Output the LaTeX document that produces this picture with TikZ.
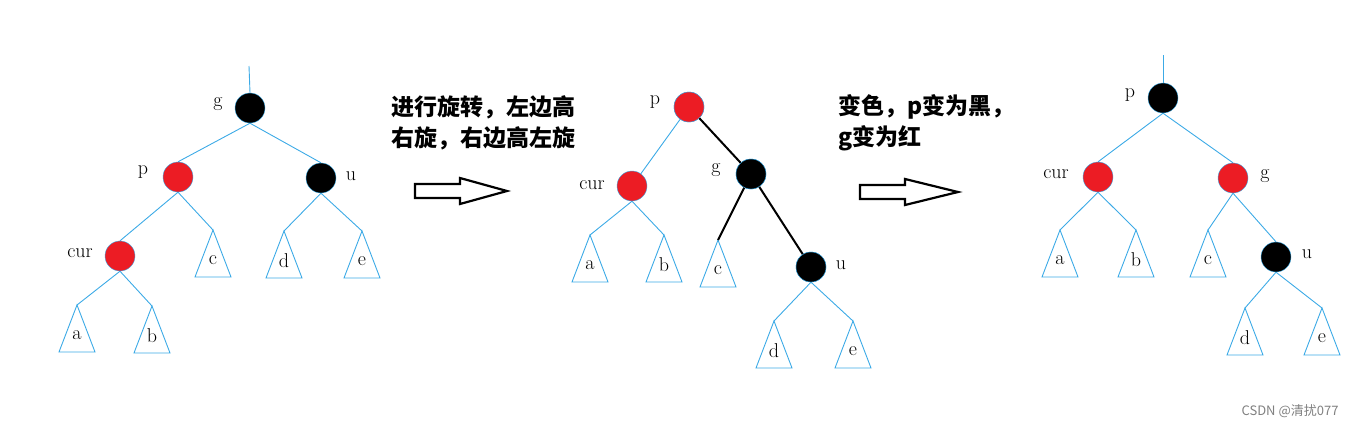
\documentclass[tikz,border=0pt]{standalone}
\usepackage{fontspec}
\newfontfamily\cjk{Noto Sans CJK SC}
\newcommand{\tri}[4]{%
  \coordinate (#1) at (#2,#3);
  \draw[edge] (#1) -- ++(-18,47) -- ++(36,0) -- cycle;
  \node[lab] at ([yshift=-30]#1) {#4};}
\begin{document}
\begin{tikzpicture}[x=1pt,y=-1pt,
  edge/.style={draw={rgb,255:red,60;green,170;blue,230},line width=0.9pt},
  bedge/.style={draw=black,line width=2pt},
  rn/.style={circle,fill={rgb,255:red,236;green,28;blue,36},draw={rgb,255:red,60;green,170;blue,230},line width=0.4pt,minimum size=30pt,inner sep=0pt},
  bn/.style={circle,fill=black,draw={rgb,255:red,60;green,170;blue,230},line width=0.4pt,minimum size=30pt,inner sep=0pt},
  lab/.style={font=\fontsize{20}{22}\selectfont,inner sep=0pt},
  cn/.style={font=\cjk\bfseries\fontsize{23}{26}\selectfont,anchor=west,inner sep=0pt},
  harrow/.style={draw=black,line width=2.2pt,fill=white}]
\useasboundingbox (0,0) rectangle (1353,429);
% tree 1
\coordinate (t1) at (249,66);
\node[bn] (g1) at (250,108) {};
\node[rn] (p1) at (178,177) {};
\node[bn] (u1) at (321,178) {};
\node[rn] (c1) at (120,256) {};
\node[lab] at (218,104) {g};
\node[lab] at (143,172) {p};
\node[lab] at (351,176) {u};
\node[lab] at (80,253) {cur};
\tri{ta1}{77}{305}{a}
\tri{tb1}{152}{306}{b}
\tri{tc1}{213}{230}{c}
\tri{td1}{284}{231}{d}
\tri{te1}{362}{231}{e}
\draw[edge] (t1) -- (g1.north);
\draw[edge] (g1.south) -- (p1.north);
\draw[edge] (g1.south) -- (u1.north);
\draw[edge] (p1.south) -- (c1.north);
\draw[edge] (p1.south) -- (tc1);
\draw[edge] (u1.south) -- (td1);
\draw[edge] (u1.south) -- (te1);
\draw[edge] (c1.south) -- (ta1);
\draw[edge] (c1.south) -- (tb1);
% text and arrow 1
\node[cn] (txt1) at (391,107) {进行旋转，左边高};
\node[cn] (txt2) at (391,138) {右旋，右边高左旋};
\draw[harrow] (415,184) -- (460,184) -- (460,178) -- (507,191) -- (460,204) -- (460,198) -- (415,198) -- cycle;
% tree 2
\node[rn] (p2) at (689,107) {};
\node[rn] (c2) at (632,186) {};
\node[bn] (g2) at (751,174) {};
\node[bn] (u2) at (811,267) {};
\node[lab] at (655,102) {p};
\node[lab] at (592,185) {cur};
\node[lab] at (716,170) {g};
\node[lab] at (841,265) {u};
\tri{ta2}{590}{235}{a}
\tri{tb2}{664}{235}{b}
\tri{tc2}{718}{240}{c}
\tri{td2}{774}{321}{d}
\tri{te2}{853}{321}{e}
\draw[edge] (p2) -- (c2);
\draw[edge] (c2.south) -- (ta2);
\draw[edge] (c2.south) -- (tb2);
\draw[edge] (u2.south) -- (td2);
\draw[edge] (u2.south) -- (te2);
\draw[bedge] (p2) -- (g2);
\draw[bedge] (g2) -- (tc2);
\draw[bedge] (g2) -- (u2);
\node[bn] at (g2) {};
\node[rn] at (p2) {};
\node[bn] at (u2) {};
% text and arrow 2
\node[cn] (txt3) at (838,107) {变色，p变为黑，};
\node[cn] (txt4) at (838,138) {g变为红};
\draw[harrow] (860,185) -- (905,185) -- (905,179) -- (958,192) -- (905,205) -- (905,199) -- (860,199) -- cycle;
% tree 3
\coordinate (t3) at (1163,55);
\node[bn] (p3) at (1163,98) {};
\node[rn] (c3) at (1098,177) {};
\node[rn] (g3) at (1233,178) {};
\node[bn] (u3) at (1276,257) {};
\node[lab] at (1130,95) {p};
\node[lab] at (1056,174) {cur};
\node[lab] at (1265,176) {g};
\node[lab] at (1307,254) {u};
\tri{ta3}{1060}{230}{a}
\tri{tb3}{1136}{230}{b}
\tri{tc3}{1208}{230}{c}
\tri{td3}{1245}{308}{d}
\tri{te3}{1322}{308}{e}
\draw[edge] (t3) -- (p3.north);
\draw[edge] (p3.south) -- (c3.north);
\draw[edge] (p3.south) -- (g3.north);
\draw[edge] (c3.south) -- (ta3);
\draw[edge] (c3.south) -- (tb3);
\draw[edge] (g3.south) -- (tc3);
\draw[edge] (g3.south) -- (u3.north);
\draw[edge] (u3.south) -- (td3);
\draw[edge] (u3.south) -- (te3);
\node[font=\cjk\fontsize{13}{15}\selectfont,text=gray,anchor=east] (wm) at (1342,411) {CSDN @清扰077};
\end{tikzpicture}
\end{document}
